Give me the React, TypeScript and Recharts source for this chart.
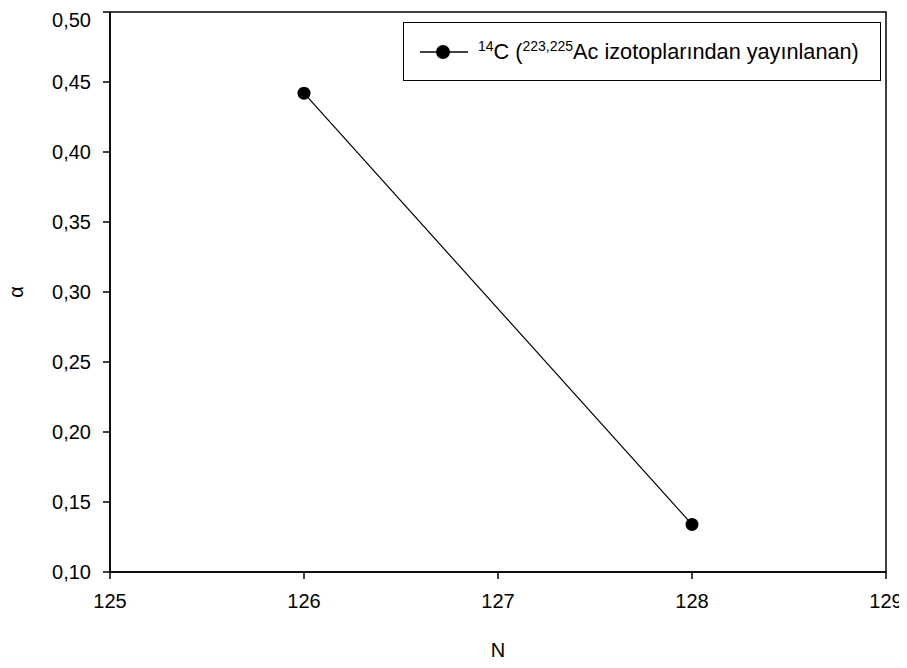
import { LineChart, Line, XAxis, YAxis, Legend, ReferenceArea } from "recharts";

const nValues = [126, 128];
const alphaValues = [0.442, 0.134];
const xTicks = [125, 126, 127, 128, 129];
const yTicks = [0.1, 0.15, 0.2, 0.25, 0.3, 0.35, 0.4, 0.45, 0.5];
const seriesName = "14C (223,225Ac izotoplarından yayınlanan)";

const data = nValues.map((n, i) => ({ n, alpha: alphaValues[i] }));

const font = "'Liberation Sans', Arial, sans-serif";
const fmt = (v: number) => v.toFixed(2).replace(".", ",");

function LegendBox() {
  return (
    <div
      style={{
        boxSizing: "border-box",
        width: "100%",
        height: "100%",
        border: "1.5px solid #000",
        display: "flex",
        alignItems: "center",
        fontFamily: font,
        fontSize: 21.7,
        color: "#000",
        whiteSpace: "nowrap",
      }}
    >
      <svg width={48} height={18} style={{ marginLeft: 16 }}>
        <line x1={0} y1={9} x2={48} y2={9} stroke="#000" strokeWidth={1.3} />
        <circle cx={23} cy={9} r={7} fill="#000" />
      </svg>
      <span style={{ marginLeft: 10 }}>
        <sup style={{ fontSize: 14 }}>14</sup>C (<sup style={{ fontSize: 14 }}>223,225</sup>Ac izotoplarından yayınlanan)
      </span>
    </div>
  );
}

function AlphaLabel(props: any) {
  const vb = props.viewBox || { x: 0, y: 0, height: 0 };
  const cx = vb.x + 6;
  const cy = vb.y + vb.height / 2;
  return (
    <text
      x={cx}
      y={cy}
      transform={`rotate(-90 ${cx} ${cy})`}
      textAnchor="middle"
      dominantBaseline="central"
      fontSize={20}
      fill="#000"
    >
      α
    </text>
  );
}

export default function App() {
  return (
    <div>
      <style>
        {".recharts-wrapper, svg.recharts-surface { overflow: visible !important; } body { overflow: hidden; }"}
      </style>
      <LineChart
        width={899}
        height={660}
        data={data}
        margin={{ top: 4, right: 21, left: 2, bottom: 6 }}
        style={{ fontFamily: font, overflow: "visible" }}
      >
        <XAxis
          dataKey="n"
          type="number"
          domain={[125, 129]}
          ticks={xTicks}
          allowDataOverflow
          height={90}
          tickSize={7}
          tickMargin={15}
          stroke="#000"
          strokeWidth={1.5}
          tick={{ fill: "#000", fontSize: 20 }}
          label={{ value: "N", position: "insideBottom", offset: 5, fill: "#000", fontSize: 20 }}
        />
        <YAxis
          type="number"
          domain={[0.1, 0.5]}
          ticks={yTicks}
          allowDataOverflow
          width={100}
          tickSize={7}
          tickMargin={12}
          tickFormatter={fmt}
          stroke="#000"
          strokeWidth={1.5}
          tick={{ fill: "#000", fontSize: 20 }}
          label={<AlphaLabel />}
        />
        <ReferenceArea
          x1={125}
          x2={129}
          y1={0.1}
          y2={0.5}
          fill="none"
          stroke="#000"
          strokeWidth={1.5}
          fillOpacity={0}
          ifOverflow="visible"
        />
        <Legend
          layout="horizontal"
          align="center"
          verticalAlign="middle"
          content={() => <LegendBox />}
          wrapperStyle={{ position: "absolute", left: 395, top: 14, width: 478, height: 59 }}
        />
        <Line
          type="linear"
          dataKey="alpha"
          name={seriesName}
          stroke="#000"
          strokeWidth={1.2}
          dot={{ r: 6.5, fill: "#000", stroke: "#000", strokeWidth: 0 }}
          isAnimationActive={false}
        />
      </LineChart>
    </div>
  );
}
